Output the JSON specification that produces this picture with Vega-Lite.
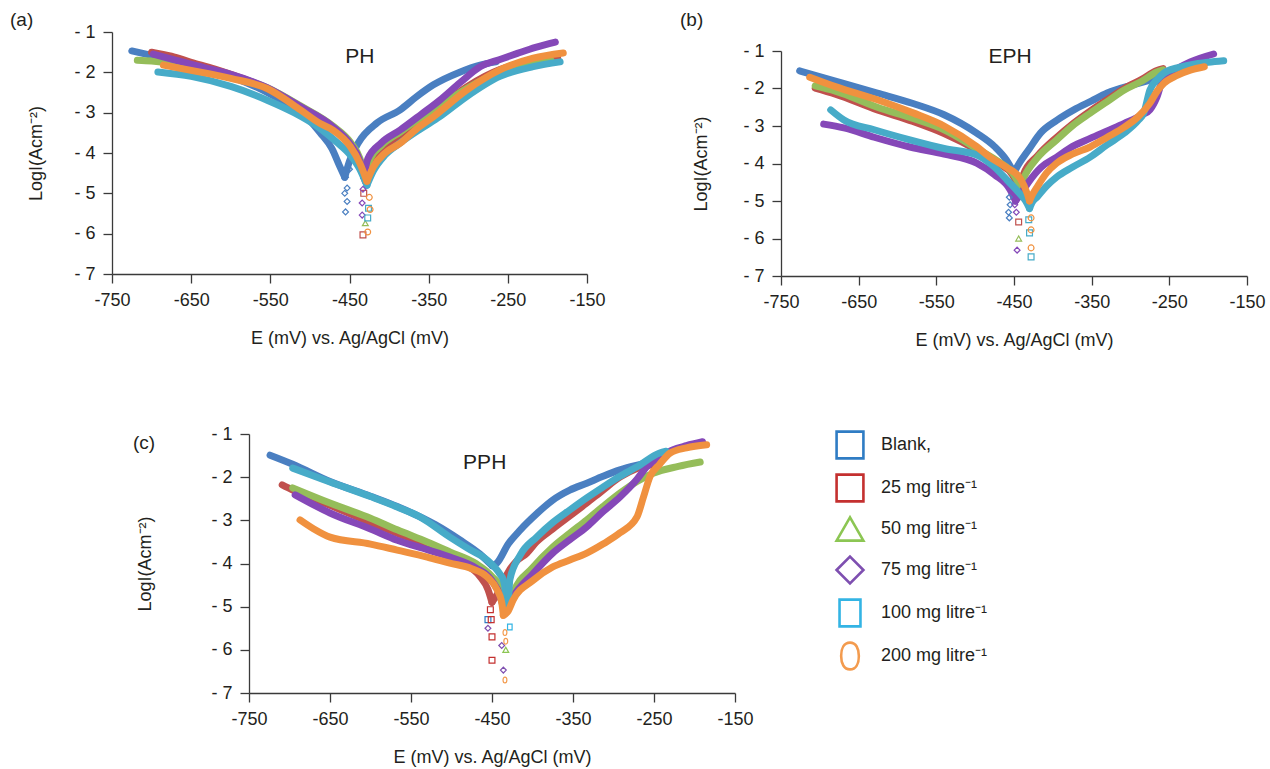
{
"$schema":"https://vega.github.io/schema/vega-lite/v6.json",
"padding":{"left":10,"top":11,"right":2,"bottom":2},
"config":{
 "font":"Liberation Sans",
 "view":{"stroke":null},
 "axis":{"grid":false,"domainColor":"#3a3a3a","tickColor":"#3a3a3a","domainWidth":1.3,"tickWidth":1.3,"tickSize":9,"labelFontSize":18,"labelColor":"#231f20","titleFontSize":18,"titleFontWeight":"normal","titleColor":"#231f20","labelPadding":8},
 "axisX":{"titlePadding":20,"labelFlush":false,"labelExpr":"'-' + abs(datum.value)"},
 "title":{"fontSize":19,"fontWeight":"normal","color":"#231f20","anchor":"start","frame":"group"},
 "text":{"font":"Liberation Sans"}
},
"datasets":{
"curves":[
{"p":"a","s":"Blank,","b":"c","E":-725,"L":-1.47},{"p":"a","s":"Blank,","b":"c","E":-700,"L":-1.58},{"p":"a","s":"Blank,","b":"c","E":-650,"L":-1.8},{"p":"a","s":"Blank,","b":"c","E":-600,"L":-2.1},{"p":"a","s":"Blank,","b":"c","E":-554,"L":-2.5},{"p":"a","s":"Blank,","b":"c","E":-520,"L":-2.9},{"p":"a","s":"Blank,","b":"c","E":-500,"L":-3.2},{"p":"a","s":"Blank,","b":"c","E":-487,"L":-3.5},{"p":"a","s":"Blank,","b":"c","E":-472,"L":-3.9},{"p":"a","s":"Blank,","b":"c","E":-463,"L":-4.3},{"p":"a","s":"Blank,","b":"c","E":-456,"L":-4.6},
{"p":"a","s":"Blank,","b":"a","E":-456,"L":-4.6},{"p":"a","s":"Blank,","b":"a","E":-450,"L":-4.2},{"p":"a","s":"Blank,","b":"a","E":-439,"L":-3.75},{"p":"a","s":"Blank,","b":"a","E":-415,"L":-3.25},{"p":"a","s":"Blank,","b":"a","E":-386,"L":-2.93},{"p":"a","s":"Blank,","b":"a","E":-365,"L":-2.6},{"p":"a","s":"Blank,","b":"a","E":-344,"L":-2.31},{"p":"a","s":"Blank,","b":"a","E":-310,"L":-1.99},{"p":"a","s":"Blank,","b":"a","E":-285,"L":-1.82},{"p":"a","s":"Blank,","b":"a","E":-265,"L":-1.74},
{"p":"a","s":"25 mg litre⁻¹","b":"c","E":-700,"L":-1.5},{"p":"a","s":"25 mg litre⁻¹","b":"c","E":-675,"L":-1.6},{"p":"a","s":"25 mg litre⁻¹","b":"c","E":-650,"L":-1.75},{"p":"a","s":"25 mg litre⁻¹","b":"c","E":-620,"L":-1.92},{"p":"a","s":"25 mg litre⁻¹","b":"c","E":-600,"L":-2.05},{"p":"a","s":"25 mg litre⁻¹","b":"c","E":-554,"L":-2.4},{"p":"a","s":"25 mg litre⁻¹","b":"c","E":-512,"L":-2.9},{"p":"a","s":"25 mg litre⁻¹","b":"c","E":-471,"L":-3.4},{"p":"a","s":"25 mg litre⁻¹","b":"c","E":-449,"L":-3.8},{"p":"a","s":"25 mg litre⁻¹","b":"c","E":-437,"L":-4.2},{"p":"a","s":"25 mg litre⁻¹","b":"c","E":-430,"L":-4.7},
{"p":"a","s":"25 mg litre⁻¹","b":"a","E":-430,"L":-4.7},{"p":"a","s":"25 mg litre⁻¹","b":"a","E":-424,"L":-4.2},{"p":"a","s":"25 mg litre⁻¹","b":"a","E":-410,"L":-3.9},{"p":"a","s":"25 mg litre⁻¹","b":"a","E":-386,"L":-3.58},{"p":"a","s":"25 mg litre⁻¹","b":"a","E":-344,"L":-2.98},{"p":"a","s":"25 mg litre⁻¹","b":"a","E":-302,"L":-2.36},{"p":"a","s":"25 mg litre⁻¹","b":"a","E":-260,"L":-1.93},{"p":"a","s":"25 mg litre⁻¹","b":"a","E":-218,"L":-1.74},{"p":"a","s":"25 mg litre⁻¹","b":"a","E":-187,"L":-1.65},
{"p":"a","s":"50 mg litre⁻¹","b":"c","E":-718,"L":-1.7},{"p":"a","s":"50 mg litre⁻¹","b":"c","E":-700,"L":-1.72},{"p":"a","s":"50 mg litre⁻¹","b":"c","E":-650,"L":-1.85},{"p":"a","s":"50 mg litre⁻¹","b":"c","E":-600,"L":-2.08},{"p":"a","s":"50 mg litre⁻¹","b":"c","E":-554,"L":-2.38},{"p":"a","s":"50 mg litre⁻¹","b":"c","E":-512,"L":-2.83},{"p":"a","s":"50 mg litre⁻¹","b":"c","E":-471,"L":-3.33},{"p":"a","s":"50 mg litre⁻¹","b":"c","E":-449,"L":-3.73},{"p":"a","s":"50 mg litre⁻¹","b":"c","E":-437,"L":-4.13},{"p":"a","s":"50 mg litre⁻¹","b":"c","E":-430,"L":-4.6},
{"p":"a","s":"50 mg litre⁻¹","b":"a","E":-430,"L":-4.6},{"p":"a","s":"50 mg litre⁻¹","b":"a","E":-424,"L":-4.15},{"p":"a","s":"50 mg litre⁻¹","b":"a","E":-410,"L":-3.82},{"p":"a","s":"50 mg litre⁻¹","b":"a","E":-386,"L":-3.48},{"p":"a","s":"50 mg litre⁻¹","b":"a","E":-360,"L":-3.13},{"p":"a","s":"50 mg litre⁻¹","b":"a","E":-336,"L":-2.83},{"p":"a","s":"50 mg litre⁻¹","b":"a","E":-302,"L":-2.4},{"p":"a","s":"50 mg litre⁻¹","b":"a","E":-260,"L":-2.0},{"p":"a","s":"50 mg litre⁻¹","b":"a","E":-218,"L":-1.8},{"p":"a","s":"50 mg litre⁻¹","b":"a","E":-195,"L":-1.72},
{"p":"a","s":"75 mg litre⁻¹","b":"c","E":-698,"L":-1.55},{"p":"a","s":"75 mg litre⁻¹","b":"c","E":-670,"L":-1.7},{"p":"a","s":"75 mg litre⁻¹","b":"c","E":-630,"L":-1.9},{"p":"a","s":"75 mg litre⁻¹","b":"c","E":-600,"L":-2.05},{"p":"a","s":"75 mg litre⁻¹","b":"c","E":-554,"L":-2.38},{"p":"a","s":"75 mg litre⁻¹","b":"c","E":-512,"L":-2.85},{"p":"a","s":"75 mg litre⁻¹","b":"c","E":-471,"L":-3.35},{"p":"a","s":"75 mg litre⁻¹","b":"c","E":-449,"L":-3.78},{"p":"a","s":"75 mg litre⁻¹","b":"c","E":-437,"L":-4.2},{"p":"a","s":"75 mg litre⁻¹","b":"c","E":-432,"L":-4.6},
{"p":"a","s":"75 mg litre⁻¹","b":"a","E":-432,"L":-4.6},{"p":"a","s":"75 mg litre⁻¹","b":"a","E":-427,"L":-4.15},{"p":"a","s":"75 mg litre⁻¹","b":"a","E":-410,"L":-3.75},{"p":"a","s":"75 mg litre⁻¹","b":"a","E":-386,"L":-3.43},{"p":"a","s":"75 mg litre⁻¹","b":"a","E":-360,"L":-3.05},{"p":"a","s":"75 mg litre⁻¹","b":"a","E":-336,"L":-2.69},{"p":"a","s":"75 mg litre⁻¹","b":"a","E":-310,"L":-2.25},{"p":"a","s":"75 mg litre⁻¹","b":"a","E":-285,"L":-1.86},{"p":"a","s":"75 mg litre⁻¹","b":"a","E":-260,"L":-1.68},{"p":"a","s":"75 mg litre⁻¹","b":"a","E":-238,"L":-1.53},{"p":"a","s":"75 mg litre⁻¹","b":"a","E":-215,"L":-1.38},{"p":"a","s":"75 mg litre⁻¹","b":"a","E":-190,"L":-1.25},
{"p":"a","s":"100 mg litre⁻¹","b":"c","E":-692,"L":-1.99},{"p":"a","s":"100 mg litre⁻¹","b":"c","E":-650,"L":-2.1},{"p":"a","s":"100 mg litre⁻¹","b":"c","E":-600,"L":-2.35},{"p":"a","s":"100 mg litre⁻¹","b":"c","E":-554,"L":-2.69},{"p":"a","s":"100 mg litre⁻¹","b":"c","E":-520,"L":-3.0},{"p":"a","s":"100 mg litre⁻¹","b":"c","E":-490,"L":-3.35},{"p":"a","s":"100 mg litre⁻¹","b":"c","E":-465,"L":-3.75},{"p":"a","s":"100 mg litre⁻¹","b":"c","E":-449,"L":-4.05},{"p":"a","s":"100 mg litre⁻¹","b":"c","E":-437,"L":-4.4},{"p":"a","s":"100 mg litre⁻¹","b":"c","E":-428,"L":-4.8},
{"p":"a","s":"100 mg litre⁻¹","b":"a","E":-428,"L":-4.8},{"p":"a","s":"100 mg litre⁻¹","b":"a","E":-420,"L":-4.45},{"p":"a","s":"100 mg litre⁻¹","b":"a","E":-405,"L":-4.05},{"p":"a","s":"100 mg litre⁻¹","b":"a","E":-386,"L":-3.75},{"p":"a","s":"100 mg litre⁻¹","b":"a","E":-360,"L":-3.4},{"p":"a","s":"100 mg litre⁻¹","b":"a","E":-336,"L":-3.1},{"p":"a","s":"100 mg litre⁻¹","b":"a","E":-302,"L":-2.6},{"p":"a","s":"100 mg litre⁻¹","b":"a","E":-260,"L":-2.1},{"p":"a","s":"100 mg litre⁻¹","b":"a","E":-218,"L":-1.86},{"p":"a","s":"100 mg litre⁻¹","b":"a","E":-184,"L":-1.74},
{"p":"a","s":"200 mg litre⁻¹","b":"c","E":-685,"L":-1.82},{"p":"a","s":"200 mg litre⁻¹","b":"c","E":-650,"L":-1.95},{"p":"a","s":"200 mg litre⁻¹","b":"c","E":-600,"L":-2.15},{"p":"a","s":"200 mg litre⁻¹","b":"c","E":-554,"L":-2.4},{"p":"a","s":"200 mg litre⁻¹","b":"c","E":-512,"L":-2.93},{"p":"a","s":"200 mg litre⁻¹","b":"c","E":-487,"L":-3.27},{"p":"a","s":"200 mg litre⁻¹","b":"c","E":-471,"L":-3.43},{"p":"a","s":"200 mg litre⁻¹","b":"c","E":-449,"L":-3.84},{"p":"a","s":"200 mg litre⁻¹","b":"c","E":-437,"L":-4.25},{"p":"a","s":"200 mg litre⁻¹","b":"c","E":-428,"L":-4.7},
{"p":"a","s":"200 mg litre⁻¹","b":"a","E":-428,"L":-4.7},{"p":"a","s":"200 mg litre⁻¹","b":"a","E":-420,"L":-4.35},{"p":"a","s":"200 mg litre⁻¹","b":"a","E":-405,"L":-4.0},{"p":"a","s":"200 mg litre⁻¹","b":"a","E":-386,"L":-3.76},{"p":"a","s":"200 mg litre⁻¹","b":"a","E":-365,"L":-3.4},{"p":"a","s":"200 mg litre⁻¹","b":"a","E":-344,"L":-3.1},{"p":"a","s":"200 mg litre⁻¹","b":"a","E":-302,"L":-2.44},{"p":"a","s":"200 mg litre⁻¹","b":"a","E":-260,"L":-1.94},{"p":"a","s":"200 mg litre⁻¹","b":"a","E":-218,"L":-1.65},{"p":"a","s":"200 mg litre⁻¹","b":"a","E":-180,"L":-1.52},

{"p":"b","s":"Blank,","b":"c","E":-726,"L":-1.53},{"p":"b","s":"Blank,","b":"c","E":-680,"L":-1.8},{"p":"b","s":"Blank,","b":"c","E":-626,"L":-2.12},{"p":"b","s":"Blank,","b":"c","E":-580,"L":-2.4},{"p":"b","s":"Blank,","b":"c","E":-540,"L":-2.7},{"p":"b","s":"Blank,","b":"c","E":-498,"L":-3.19},{"p":"b","s":"Blank,","b":"c","E":-475,"L":-3.55},{"p":"b","s":"Blank,","b":"c","E":-460,"L":-3.9},{"p":"b","s":"Blank,","b":"c","E":-450,"L":-4.25},
{"p":"b","s":"Blank,","b":"a","E":-450,"L":-4.25},{"p":"b","s":"Blank,","b":"a","E":-446,"L":-4.09},{"p":"b","s":"Blank,","b":"a","E":-430,"L":-3.6},{"p":"b","s":"Blank,","b":"a","E":-416,"L":-3.19},{"p":"b","s":"Blank,","b":"a","E":-395,"L":-2.85},{"p":"b","s":"Blank,","b":"a","E":-373,"L":-2.57},{"p":"b","s":"Blank,","b":"a","E":-350,"L":-2.33},{"p":"b","s":"Blank,","b":"a","E":-330,"L":-2.12},{"p":"b","s":"Blank,","b":"a","E":-296,"L":-1.9},{"p":"b","s":"Blank,","b":"a","E":-270,"L":-1.75},
{"p":"b","s":"25 mg litre⁻¹","b":"c","E":-706,"L":-1.99},{"p":"b","s":"25 mg litre⁻¹","b":"c","E":-680,"L":-2.15},{"p":"b","s":"25 mg litre⁻¹","b":"c","E":-626,"L":-2.57},{"p":"b","s":"25 mg litre⁻¹","b":"c","E":-580,"L":-2.88},{"p":"b","s":"25 mg litre⁻¹","b":"c","E":-540,"L":-3.2},{"p":"b","s":"25 mg litre⁻¹","b":"c","E":-498,"L":-3.64},{"p":"b","s":"25 mg litre⁻¹","b":"c","E":-470,"L":-4.0},{"p":"b","s":"25 mg litre⁻¹","b":"c","E":-452,"L":-4.3},{"p":"b","s":"25 mg litre⁻¹","b":"c","E":-442,"L":-4.7},
{"p":"b","s":"25 mg litre⁻¹","b":"a","E":-442,"L":-4.7},{"p":"b","s":"25 mg litre⁻¹","b":"a","E":-438,"L":-4.3},{"p":"b","s":"25 mg litre⁻¹","b":"a","E":-420,"L":-3.8},{"p":"b","s":"25 mg litre⁻¹","b":"a","E":-395,"L":-3.3},{"p":"b","s":"25 mg litre⁻¹","b":"a","E":-375,"L":-2.95},{"p":"b","s":"25 mg litre⁻¹","b":"a","E":-352,"L":-2.6},{"p":"b","s":"25 mg litre⁻¹","b":"a","E":-330,"L":-2.3},{"p":"b","s":"25 mg litre⁻¹","b":"a","E":-308,"L":-2.0},{"p":"b","s":"25 mg litre⁻¹","b":"a","E":-285,"L":-1.75},{"p":"b","s":"25 mg litre⁻¹","b":"a","E":-266,"L":-1.52},{"p":"b","s":"25 mg litre⁻¹","b":"a","E":-258,"L":-1.47},
{"p":"b","s":"50 mg litre⁻¹","b":"c","E":-706,"L":-1.93},{"p":"b","s":"50 mg litre⁻¹","b":"c","E":-680,"L":-2.07},{"p":"b","s":"50 mg litre⁻¹","b":"c","E":-626,"L":-2.5},{"p":"b","s":"50 mg litre⁻¹","b":"c","E":-580,"L":-2.8},{"p":"b","s":"50 mg litre⁻¹","b":"c","E":-540,"L":-3.1},{"p":"b","s":"50 mg litre⁻¹","b":"c","E":-498,"L":-3.6},{"p":"b","s":"50 mg litre⁻¹","b":"c","E":-470,"L":-3.95},{"p":"b","s":"50 mg litre⁻¹","b":"c","E":-452,"L":-4.25},{"p":"b","s":"50 mg litre⁻¹","b":"c","E":-442,"L":-4.6},
{"p":"b","s":"50 mg litre⁻¹","b":"a","E":-442,"L":-4.6},{"p":"b","s":"50 mg litre⁻¹","b":"a","E":-437,"L":-4.36},{"p":"b","s":"50 mg litre⁻¹","b":"a","E":-420,"L":-3.85},{"p":"b","s":"50 mg litre⁻¹","b":"a","E":-395,"L":-3.37},{"p":"b","s":"50 mg litre⁻¹","b":"a","E":-375,"L":-3.0},{"p":"b","s":"50 mg litre⁻¹","b":"a","E":-352,"L":-2.66},{"p":"b","s":"50 mg litre⁻¹","b":"a","E":-330,"L":-2.35},{"p":"b","s":"50 mg litre⁻¹","b":"a","E":-308,"L":-2.04},{"p":"b","s":"50 mg litre⁻¹","b":"a","E":-285,"L":-1.8},{"p":"b","s":"50 mg litre⁻¹","b":"a","E":-266,"L":-1.56},{"p":"b","s":"50 mg litre⁻¹","b":"a","E":-258,"L":-1.5},
{"p":"b","s":"75 mg litre⁻¹","b":"c","E":-695,"L":-2.95},{"p":"b","s":"75 mg litre⁻¹","b":"c","E":-669,"L":-3.05},{"p":"b","s":"75 mg litre⁻¹","b":"c","E":-630,"L":-3.3},{"p":"b","s":"75 mg litre⁻¹","b":"c","E":-584,"L":-3.56},{"p":"b","s":"75 mg litre⁻¹","b":"c","E":-540,"L":-3.75},{"p":"b","s":"75 mg litre⁻¹","b":"c","E":-498,"L":-3.99},{"p":"b","s":"75 mg litre⁻¹","b":"c","E":-475,"L":-4.3},{"p":"b","s":"75 mg litre⁻¹","b":"c","E":-455,"L":-4.7},{"p":"b","s":"75 mg litre⁻¹","b":"c","E":-448,"L":-5.0},
{"p":"b","s":"75 mg litre⁻¹","b":"a","E":-448,"L":-5.0},{"p":"b","s":"75 mg litre⁻¹","b":"a","E":-441,"L":-4.8},{"p":"b","s":"75 mg litre⁻¹","b":"a","E":-431,"L":-4.49},{"p":"b","s":"75 mg litre⁻¹","b":"a","E":-415,"L":-4.1},{"p":"b","s":"75 mg litre⁻¹","b":"a","E":-395,"L":-3.83},{"p":"b","s":"75 mg litre⁻¹","b":"a","E":-375,"L":-3.55},{"p":"b","s":"75 mg litre⁻¹","b":"a","E":-352,"L":-3.33},{"p":"b","s":"75 mg litre⁻¹","b":"a","E":-330,"L":-3.13},{"p":"b","s":"75 mg litre⁻¹","b":"a","E":-308,"L":-2.93},{"p":"b","s":"75 mg litre⁻¹","b":"a","E":-285,"L":-2.7},{"p":"b","s":"75 mg litre⁻¹","b":"a","E":-275,"L":-2.57},{"p":"b","s":"75 mg litre⁻¹","b":"a","E":-266,"L":-2.23},{"p":"b","s":"75 mg litre⁻¹","b":"a","E":-257,"L":-1.69},{"p":"b","s":"75 mg litre⁻¹","b":"a","E":-240,"L":-1.47},{"p":"b","s":"75 mg litre⁻¹","b":"a","E":-223,"L":-1.29},{"p":"b","s":"75 mg litre⁻¹","b":"a","E":-193,"L":-1.08},
{"p":"b","s":"100 mg litre⁻¹","b":"c","E":-686,"L":-2.57},{"p":"b","s":"100 mg litre⁻¹","b":"c","E":-669,"L":-2.84},{"p":"b","s":"100 mg litre⁻¹","b":"c","E":-630,"L":-3.1},{"p":"b","s":"100 mg litre⁻¹","b":"c","E":-584,"L":-3.37},{"p":"b","s":"100 mg litre⁻¹","b":"c","E":-540,"L":-3.6},{"p":"b","s":"100 mg litre⁻¹","b":"c","E":-498,"L":-3.77},{"p":"b","s":"100 mg litre⁻¹","b":"c","E":-475,"L":-4.1},{"p":"b","s":"100 mg litre⁻¹","b":"c","E":-459,"L":-4.44},{"p":"b","s":"100 mg litre⁻¹","b":"c","E":-445,"L":-4.75},{"p":"b","s":"100 mg litre⁻¹","b":"c","E":-435,"L":-5.0},{"p":"b","s":"100 mg litre⁻¹","b":"c","E":-430,"L":-5.2},
{"p":"b","s":"100 mg litre⁻¹","b":"a","E":-430,"L":-5.2},{"p":"b","s":"100 mg litre⁻¹","b":"a","E":-427,"L":-5.05},{"p":"b","s":"100 mg litre⁻¹","b":"a","E":-420,"L":-4.89},{"p":"b","s":"100 mg litre⁻¹","b":"a","E":-408,"L":-4.6},{"p":"b","s":"100 mg litre⁻¹","b":"a","E":-395,"L":-4.36},{"p":"b","s":"100 mg litre⁻¹","b":"a","E":-375,"L":-4.1},{"p":"b","s":"100 mg litre⁻¹","b":"a","E":-352,"L":-3.83},{"p":"b","s":"100 mg litre⁻¹","b":"a","E":-330,"L":-3.5},{"p":"b","s":"100 mg litre⁻¹","b":"a","E":-308,"L":-3.19},{"p":"b","s":"100 mg litre⁻¹","b":"a","E":-290,"L":-2.85},{"p":"b","s":"100 mg litre⁻¹","b":"a","E":-283,"L":-2.66},{"p":"b","s":"100 mg litre⁻¹","b":"a","E":-275,"L":-2.04},{"p":"b","s":"100 mg litre⁻¹","b":"a","E":-265,"L":-1.75},{"p":"b","s":"100 mg litre⁻¹","b":"a","E":-257,"L":-1.59},{"p":"b","s":"100 mg litre⁻¹","b":"a","E":-240,"L":-1.45},{"p":"b","s":"100 mg litre⁻¹","b":"a","E":-223,"L":-1.37},{"p":"b","s":"100 mg litre⁻¹","b":"a","E":-200,"L":-1.3},{"p":"b","s":"100 mg litre⁻¹","b":"a","E":-180,"L":-1.26},
{"p":"b","s":"200 mg litre⁻¹","b":"c","E":-713,"L":-1.7},{"p":"b","s":"200 mg litre⁻¹","b":"c","E":-680,"L":-1.95},{"p":"b","s":"200 mg litre⁻¹","b":"c","E":-626,"L":-2.3},{"p":"b","s":"200 mg litre⁻¹","b":"c","E":-580,"L":-2.65},{"p":"b","s":"200 mg litre⁻¹","b":"c","E":-540,"L":-3.0},{"p":"b","s":"200 mg litre⁻¹","b":"c","E":-498,"L":-3.55},{"p":"b","s":"200 mg litre⁻¹","b":"c","E":-481,"L":-3.83},{"p":"b","s":"200 mg litre⁻¹","b":"c","E":-460,"L":-4.1},{"p":"b","s":"200 mg litre⁻¹","b":"c","E":-442,"L":-4.4},{"p":"b","s":"200 mg litre⁻¹","b":"c","E":-433,"L":-4.8},{"p":"b","s":"200 mg litre⁻¹","b":"c","E":-430,"L":-5.0},
{"p":"b","s":"200 mg litre⁻¹","b":"a","E":-430,"L":-5.0},{"p":"b","s":"200 mg litre⁻¹","b":"a","E":-428,"L":-4.9},{"p":"b","s":"200 mg litre⁻¹","b":"a","E":-420,"L":-4.62},{"p":"b","s":"200 mg litre⁻¹","b":"a","E":-408,"L":-4.25},{"p":"b","s":"200 mg litre⁻¹","b":"a","E":-395,"L":-3.99},{"p":"b","s":"200 mg litre⁻¹","b":"a","E":-375,"L":-3.75},{"p":"b","s":"200 mg litre⁻¹","b":"a","E":-352,"L":-3.56},{"p":"b","s":"200 mg litre⁻¹","b":"a","E":-330,"L":-3.3},{"p":"b","s":"200 mg litre⁻¹","b":"a","E":-308,"L":-3.03},{"p":"b","s":"200 mg litre⁻¹","b":"a","E":-290,"L":-2.75},{"p":"b","s":"200 mg litre⁻¹","b":"a","E":-275,"L":-2.39},{"p":"b","s":"200 mg litre⁻¹","b":"a","E":-265,"L":-2.05},{"p":"b","s":"200 mg litre⁻¹","b":"a","E":-257,"L":-1.86},{"p":"b","s":"200 mg litre⁻¹","b":"a","E":-240,"L":-1.65},{"p":"b","s":"200 mg litre⁻¹","b":"a","E":-223,"L":-1.51},{"p":"b","s":"200 mg litre⁻¹","b":"a","E":-205,"L":-1.42},

{"p":"c","s":"Blank,","b":"c","E":-724,"L":-1.49},{"p":"c","s":"Blank,","b":"c","E":-696,"L":-1.7},{"p":"c","s":"Blank,","b":"c","E":-650,"L":-2.1},{"p":"c","s":"Blank,","b":"c","E":-600,"L":-2.44},{"p":"c","s":"Blank,","b":"c","E":-567,"L":-2.68},{"p":"c","s":"Blank,","b":"c","E":-520,"L":-3.1},{"p":"c","s":"Blank,","b":"c","E":-490,"L":-3.45},{"p":"c","s":"Blank,","b":"c","E":-465,"L":-3.78},{"p":"c","s":"Blank,","b":"c","E":-450,"L":-4.05},
{"p":"c","s":"Blank,","b":"a","E":-450,"L":-4.05},{"p":"c","s":"Blank,","b":"a","E":-444,"L":-3.99},{"p":"c","s":"Blank,","b":"a","E":-430,"L":-3.55},{"p":"c","s":"Blank,","b":"a","E":-415,"L":-3.22},{"p":"c","s":"Blank,","b":"a","E":-395,"L":-2.85},{"p":"c","s":"Blank,","b":"a","E":-375,"L":-2.53},{"p":"c","s":"Blank,","b":"a","E":-354,"L":-2.3},{"p":"c","s":"Blank,","b":"a","E":-333,"L":-2.14},{"p":"c","s":"Blank,","b":"a","E":-313,"L":-1.98},{"p":"c","s":"Blank,","b":"a","E":-292,"L":-1.83},{"p":"c","s":"Blank,","b":"a","E":-259,"L":-1.67},{"p":"c","s":"Blank,","b":"a","E":-245,"L":-1.6},
{"p":"c","s":"25 mg litre⁻¹","b":"c","E":-709,"L":-2.18},{"p":"c","s":"25 mg litre⁻¹","b":"c","E":-696,"L":-2.3},{"p":"c","s":"25 mg litre⁻¹","b":"c","E":-650,"L":-2.65},{"p":"c","s":"25 mg litre⁻¹","b":"c","E":-600,"L":-3.05},{"p":"c","s":"25 mg litre⁻¹","b":"c","E":-567,"L":-3.3},{"p":"c","s":"25 mg litre⁻¹","b":"c","E":-520,"L":-3.65},{"p":"c","s":"25 mg litre⁻¹","b":"c","E":-490,"L":-3.95},{"p":"c","s":"25 mg litre⁻¹","b":"c","E":-465,"L":-4.3},{"p":"c","s":"25 mg litre⁻¹","b":"c","E":-455,"L":-4.6},{"p":"c","s":"25 mg litre⁻¹","b":"c","E":-450,"L":-4.9},
{"p":"c","s":"25 mg litre⁻¹","b":"a","E":-450,"L":-4.9},{"p":"c","s":"25 mg litre⁻¹","b":"a","E":-440,"L":-4.6},{"p":"c","s":"25 mg litre⁻¹","b":"a","E":-430,"L":-4.2},{"p":"c","s":"25 mg litre⁻¹","b":"a","E":-420,"L":-3.95},{"p":"c","s":"25 mg litre⁻¹","b":"a","E":-407,"L":-3.76},{"p":"c","s":"25 mg litre⁻¹","b":"a","E":-395,"L":-3.5},{"p":"c","s":"25 mg litre⁻¹","b":"a","E":-375,"L":-3.2},{"p":"c","s":"25 mg litre⁻¹","b":"a","E":-354,"L":-2.9},{"p":"c","s":"25 mg litre⁻¹","b":"a","E":-333,"L":-2.6},{"p":"c","s":"25 mg litre⁻¹","b":"a","E":-313,"L":-2.3},{"p":"c","s":"25 mg litre⁻¹","b":"a","E":-292,"L":-2.0},{"p":"c","s":"25 mg litre⁻¹","b":"a","E":-271,"L":-1.8},{"p":"c","s":"25 mg litre⁻¹","b":"a","E":-250,"L":-1.7},
{"p":"c","s":"50 mg litre⁻¹","b":"c","E":-696,"L":-2.25},{"p":"c","s":"50 mg litre⁻¹","b":"c","E":-650,"L":-2.6},{"p":"c","s":"50 mg litre⁻¹","b":"c","E":-600,"L":-2.95},{"p":"c","s":"50 mg litre⁻¹","b":"c","E":-567,"L":-3.22},{"p":"c","s":"50 mg litre⁻¹","b":"c","E":-530,"L":-3.5},{"p":"c","s":"50 mg litre⁻¹","b":"c","E":-502,"L":-3.73},{"p":"c","s":"50 mg litre⁻¹","b":"c","E":-470,"L":-4.0},{"p":"c","s":"50 mg litre⁻¹","b":"c","E":-450,"L":-4.3},{"p":"c","s":"50 mg litre⁻¹","b":"c","E":-438,"L":-4.6},{"p":"c","s":"50 mg litre⁻¹","b":"c","E":-432,"L":-5.0},
{"p":"c","s":"50 mg litre⁻¹","b":"a","E":-432,"L":-5.0},{"p":"c","s":"50 mg litre⁻¹","b":"a","E":-428,"L":-4.9},{"p":"c","s":"50 mg litre⁻¹","b":"a","E":-424,"L":-4.69},{"p":"c","s":"50 mg litre⁻¹","b":"a","E":-400,"L":-4.1},{"p":"c","s":"50 mg litre⁻¹","b":"a","E":-375,"L":-3.62},{"p":"c","s":"50 mg litre⁻¹","b":"a","E":-354,"L":-3.3},{"p":"c","s":"50 mg litre⁻¹","b":"a","E":-333,"L":-2.99},{"p":"c","s":"50 mg litre⁻¹","b":"a","E":-313,"L":-2.68},{"p":"c","s":"50 mg litre⁻¹","b":"a","E":-292,"L":-2.37},{"p":"c","s":"50 mg litre⁻¹","b":"a","E":-271,"L":-2.1},{"p":"c","s":"50 mg litre⁻¹","b":"a","E":-251,"L":-1.91},{"p":"c","s":"50 mg litre⁻¹","b":"a","E":-220,"L":-1.75},{"p":"c","s":"50 mg litre⁻¹","b":"a","E":-193,"L":-1.65},
{"p":"c","s":"75 mg litre⁻¹","b":"c","E":-693,"L":-2.41},{"p":"c","s":"75 mg litre⁻¹","b":"c","E":-650,"L":-2.83},{"p":"c","s":"75 mg litre⁻¹","b":"c","E":-600,"L":-3.2},{"p":"c","s":"75 mg litre⁻¹","b":"c","E":-567,"L":-3.46},{"p":"c","s":"75 mg litre⁻¹","b":"c","E":-530,"L":-3.68},{"p":"c","s":"75 mg litre⁻¹","b":"c","E":-502,"L":-3.85},{"p":"c","s":"75 mg litre⁻¹","b":"c","E":-470,"L":-4.1},{"p":"c","s":"75 mg litre⁻¹","b":"c","E":-450,"L":-4.4},{"p":"c","s":"75 mg litre⁻¹","b":"c","E":-440,"L":-4.75},{"p":"c","s":"75 mg litre⁻¹","b":"c","E":-435,"L":-5.1},
{"p":"c","s":"75 mg litre⁻¹","b":"a","E":-435,"L":-5.1},{"p":"c","s":"75 mg litre⁻¹","b":"a","E":-430,"L":-5.0},{"p":"c","s":"75 mg litre⁻¹","b":"a","E":-424,"L":-4.78},{"p":"c","s":"75 mg litre⁻¹","b":"a","E":-400,"L":-4.25},{"p":"c","s":"75 mg litre⁻¹","b":"a","E":-375,"L":-3.76},{"p":"c","s":"75 mg litre⁻¹","b":"a","E":-354,"L":-3.45},{"p":"c","s":"75 mg litre⁻¹","b":"a","E":-333,"L":-3.15},{"p":"c","s":"75 mg litre⁻¹","b":"a","E":-313,"L":-2.8},{"p":"c","s":"75 mg litre⁻¹","b":"a","E":-292,"L":-2.46},{"p":"c","s":"75 mg litre⁻¹","b":"a","E":-271,"L":-2.05},{"p":"c","s":"75 mg litre⁻¹","b":"a","E":-259,"L":-1.76},{"p":"c","s":"75 mg litre⁻¹","b":"a","E":-243,"L":-1.55},{"p":"c","s":"75 mg litre⁻¹","b":"a","E":-227,"L":-1.37},{"p":"c","s":"75 mg litre⁻¹","b":"a","E":-210,"L":-1.27},{"p":"c","s":"75 mg litre⁻¹","b":"a","E":-190,"L":-1.18},
{"p":"c","s":"100 mg litre⁻¹","b":"c","E":-696,"L":-1.79},{"p":"c","s":"100 mg litre⁻¹","b":"c","E":-650,"L":-2.11},{"p":"c","s":"100 mg litre⁻¹","b":"c","E":-600,"L":-2.45},{"p":"c","s":"100 mg litre⁻¹","b":"c","E":-567,"L":-2.69},{"p":"c","s":"100 mg litre⁻¹","b":"c","E":-539,"L":-2.92},{"p":"c","s":"100 mg litre⁻¹","b":"c","E":-502,"L":-3.39},{"p":"c","s":"100 mg litre⁻¹","b":"c","E":-480,"L":-3.65},{"p":"c","s":"100 mg litre⁻¹","b":"c","E":-456,"L":-3.92},{"p":"c","s":"100 mg litre⁻¹","b":"c","E":-440,"L":-4.25},{"p":"c","s":"100 mg litre⁻¹","b":"c","E":-436,"L":-4.38},{"p":"c","s":"100 mg litre⁻¹","b":"c","E":-433,"L":-4.7},{"p":"c","s":"100 mg litre⁻¹","b":"c","E":-432,"L":-5.0},
{"p":"c","s":"100 mg litre⁻¹","b":"a","E":-432,"L":-5.0},{"p":"c","s":"100 mg litre⁻¹","b":"a","E":-430,"L":-4.9},{"p":"c","s":"100 mg litre⁻¹","b":"a","E":-428,"L":-4.38},{"p":"c","s":"100 mg litre⁻¹","b":"a","E":-415,"L":-3.8},{"p":"c","s":"100 mg litre⁻¹","b":"a","E":-395,"L":-3.39},{"p":"c","s":"100 mg litre⁻¹","b":"a","E":-375,"L":-3.05},{"p":"c","s":"100 mg litre⁻¹","b":"a","E":-354,"L":-2.76},{"p":"c","s":"100 mg litre⁻¹","b":"a","E":-333,"L":-2.48},{"p":"c","s":"100 mg litre⁻¹","b":"a","E":-313,"L":-2.23},{"p":"c","s":"100 mg litre⁻¹","b":"a","E":-292,"L":-1.98},{"p":"c","s":"100 mg litre⁻¹","b":"a","E":-271,"L":-1.76},{"p":"c","s":"100 mg litre⁻¹","b":"a","E":-243,"L":-1.44},{"p":"c","s":"100 mg litre⁻¹","b":"a","E":-235,"L":-1.4},
{"p":"c","s":"200 mg litre⁻¹","b":"c","E":-687,"L":-2.99},{"p":"c","s":"200 mg litre⁻¹","b":"c","E":-670,"L":-3.2},{"p":"c","s":"200 mg litre⁻¹","b":"c","E":-650,"L":-3.39},{"p":"c","s":"200 mg litre⁻¹","b":"c","E":-600,"L":-3.55},{"p":"c","s":"200 mg litre⁻¹","b":"c","E":-567,"L":-3.69},{"p":"c","s":"200 mg litre⁻¹","b":"c","E":-530,"L":-3.85},{"p":"c","s":"200 mg litre⁻¹","b":"c","E":-502,"L":-3.99},{"p":"c","s":"200 mg litre⁻¹","b":"c","E":-475,"L":-4.12},{"p":"c","s":"200 mg litre⁻¹","b":"c","E":-456,"L":-4.31},{"p":"c","s":"200 mg litre⁻¹","b":"c","E":-444,"L":-4.6},{"p":"c","s":"200 mg litre⁻¹","b":"c","E":-438,"L":-4.9},{"p":"c","s":"200 mg litre⁻¹","b":"c","E":-436,"L":-5.2},
{"p":"c","s":"200 mg litre⁻¹","b":"a","E":-436,"L":-5.2},{"p":"c","s":"200 mg litre⁻¹","b":"a","E":-430,"L":-5.1},{"p":"c","s":"200 mg litre⁻¹","b":"a","E":-424,"L":-4.85},{"p":"c","s":"200 mg litre⁻¹","b":"a","E":-400,"L":-4.4},{"p":"c","s":"200 mg litre⁻¹","b":"a","E":-375,"L":-4.08},{"p":"c","s":"200 mg litre⁻¹","b":"a","E":-354,"L":-3.92},{"p":"c","s":"200 mg litre⁻¹","b":"a","E":-333,"L":-3.76},{"p":"c","s":"200 mg litre⁻¹","b":"a","E":-313,"L":-3.55},{"p":"c","s":"200 mg litre⁻¹","b":"a","E":-292,"L":-3.29},{"p":"c","s":"200 mg litre⁻¹","b":"a","E":-271,"L":-2.92},{"p":"c","s":"200 mg litre⁻¹","b":"a","E":-263,"L":-2.46},{"p":"c","s":"200 mg litre⁻¹","b":"a","E":-255,"L":-1.99},{"p":"c","s":"200 mg litre⁻¹","b":"a","E":-243,"L":-1.7},{"p":"c","s":"200 mg litre⁻¹","b":"a","E":-230,"L":-1.44},{"p":"c","s":"200 mg litre⁻¹","b":"a","E":-210,"L":-1.32},{"p":"c","s":"200 mg litre⁻¹","b":"a","E":-185,"L":-1.25}
],
"markers":[
{"p":"a","s":"Blank,","E":-450,"L":-4.4},{"p":"a","s":"Blank,","E":-455,"L":-4.6},{"p":"a","s":"Blank,","E":-453,"L":-4.87},{"p":"a","s":"Blank,","E":-456,"L":-5.0},{"p":"a","s":"Blank,","E":-453,"L":-5.2},{"p":"a","s":"Blank,","E":-455,"L":-5.46},
{"p":"a","s":"25 mg litre⁻¹","E":-432,"L":-5.0},{"p":"a","s":"25 mg litre⁻¹","E":-433,"L":-6.03},
{"p":"a","s":"50 mg litre⁻¹","E":-430,"L":-5.74},
{"p":"a","s":"75 mg litre⁻¹","E":-433,"L":-4.9},{"p":"a","s":"75 mg litre⁻¹","E":-434,"L":-5.24},{"p":"a","s":"75 mg litre⁻¹","E":-434,"L":-5.54},
{"p":"a","s":"100 mg litre⁻¹","E":-426,"L":-5.37},{"p":"a","s":"100 mg litre⁻¹","E":-427,"L":-5.61},
{"p":"a","s":"200 mg litre⁻¹","E":-425,"L":-5.1},{"p":"a","s":"200 mg litre⁻¹","E":-424,"L":-5.4},{"p":"a","s":"200 mg litre⁻¹","E":-427,"L":-5.96},
{"p":"b","s":"Blank,","E":-456,"L":-4.9},{"p":"b","s":"Blank,","E":-455,"L":-5.1},{"p":"b","s":"Blank,","E":-457,"L":-5.3},{"p":"b","s":"Blank,","E":-456,"L":-5.45},
{"p":"b","s":"25 mg litre⁻¹","E":-444,"L":-5.56},
{"p":"b","s":"50 mg litre⁻¹","E":-444,"L":-6.0},
{"p":"b","s":"75 mg litre⁻¹","E":-449,"L":-5.1},{"p":"b","s":"75 mg litre⁻¹","E":-447,"L":-5.3},{"p":"b","s":"75 mg litre⁻¹","E":-446,"L":-6.31},
{"p":"b","s":"100 mg litre⁻¹","E":-431,"L":-5.5},{"p":"b","s":"100 mg litre⁻¹","E":-430,"L":-5.85},{"p":"b","s":"100 mg litre⁻¹","E":-428,"L":-6.49},
{"p":"b","s":"200 mg litre⁻¹","E":-428,"L":-5.45},{"p":"b","s":"200 mg litre⁻¹","E":-428,"L":-5.77},{"p":"b","s":"200 mg litre⁻¹","E":-428,"L":-6.25},
{"p":"c","s":"Blank,","E":-455,"L":-5.3},
{"p":"c","s":"25 mg litre⁻¹","E":-452,"L":-5.07},{"p":"c","s":"25 mg litre⁻¹","E":-451,"L":-5.3},{"p":"c","s":"25 mg litre⁻¹","E":-450,"L":-5.7},{"p":"c","s":"25 mg litre⁻¹","E":-450,"L":-6.24},
{"p":"c","s":"50 mg litre⁻¹","E":-433,"L":-6.0},
{"p":"c","s":"75 mg litre⁻¹","E":-455,"L":-5.5},{"p":"c","s":"75 mg litre⁻¹","E":-438,"L":-5.9},{"p":"c","s":"75 mg litre⁻¹","E":-436,"L":-6.47},
{"p":"c","s":"100 mg litre⁻¹","E":-428,"L":-5.47},
{"p":"c","s":"200 mg litre⁻¹","E":-434,"L":-5.6},{"p":"c","s":"200 mg litre⁻¹","E":-433,"L":-5.8},{"p":"c","s":"200 mg litre⁻¹","E":-434,"L":-6.7}
],
"labels":[
{"p":"a","t":"PH","E":-437,"L":-1.62},
{"p":"b","t":"EPH","E":-455,"L":-1.16},
{"p":"c","t":"PPH","E":-459,"L":-1.67}
]
},
"bounds":"flush",
"spacing":402,
"resolve":{"scale":{"color":"independent","shape":"independent"}},
"vconcat":[
{"bounds":"flush","spacing":194,"resolve":{"scale":{"color":"independent","shape":"independent"}},
 "hconcat":[
 {"width":475,"height":242,
  "title":{"text":"(a)","dx":-102,"offset":-7},
  "encoding":{
   "x":{"field":"E","type":"quantitative","scale":{"domain":[-750,-150],"nice":false,"zero":false},"axis":{"values":[-750,-650,-550,-450,-350,-250,-150],"title":"E (mV) vs. Ag/AgCl (mV)"}},
   "y":{"field":"L","type":"quantitative","scale":{"domain":[-7,-1],"nice":false,"zero":false},"axis":{"values":[-1,-2,-3,-4,-5,-6,-7],"labelExpr":"'- ' + abs(datum.value)","title":"LogI(Acm⁻²)","titlePadding":28}}
  },
  "layer":[
   {"data":{"name":"curves"},"transform":[{"filter":"datum.p==='a'"}],
    "mark":{"type":"line","strokeWidth":7,"strokeCap":"round","strokeJoin":"round","interpolate":"monotone"},
    "encoding":{"color":{"field":"s","type":"nominal","scale":{"domain":["Blank,","25 mg litre⁻¹","50 mg litre⁻¹","75 mg litre⁻¹","100 mg litre⁻¹","200 mg litre⁻¹"],"range":["#4a7fc1","#c0504d","#95bd5a","#8548b8","#47abc8","#f0913f"]},"legend":null},"detail":{"field":"b"}}},
   {"data":{"name":"markers"},"transform":[{"filter":"datum.p==='a'"}],
    "mark":{"type":"point","filled":false,"size":34,"strokeWidth":1.2,"opacity":1},
    "encoding":{"color":{"field":"s","type":"nominal","scale":{"domain":["Blank,","25 mg litre⁻¹","50 mg litre⁻¹","75 mg litre⁻¹","100 mg litre⁻¹","200 mg litre⁻¹"],"range":["#4a7fc1","#c0504d","#95bd5a","#8548b8","#47abc8","#f0913f"]},"legend":null},
     "shape":{"field":"s","type":"nominal","scale":{"domain":["Blank,","25 mg litre⁻¹","50 mg litre⁻¹","75 mg litre⁻¹","100 mg litre⁻¹","200 mg litre⁻¹"],"range":["diamond","square","triangle-up","diamond","square","circle"]},"legend":null}}},
   {"data":{"name":"labels"},"transform":[{"filter":"datum.p==='a'"}],
    "mark":{"type":"text","fontSize":21,"color":"#231f20"},
    "encoding":{"text":{"field":"t"}}}
  ]
 },
 {"bounds":"flush","spacing":18,"resolve":{"scale":{"color":"independent","shape":"independent"}},
  "vconcat":[
  {"width":1,"height":1,"data":{"values":[]},"mark":"point"},
  {"width":466,"height":225,
   "title":{"text":"(b)","dx":-101,"offset":12},
   "encoding":{
    "x":{"field":"E","type":"quantitative","scale":{"domain":[-750,-150],"nice":false,"zero":false},"axis":{"values":[-750,-650,-550,-450,-350,-250,-150],"title":"E (mV) vs. Ag/AgCl (mV)"}},
    "y":{"field":"L","type":"quantitative","scale":{"domain":[-7,-1],"nice":false,"zero":false},"axis":{"values":[-1,-2,-3,-4,-5,-6,-7],"labelExpr":"'- ' + abs(datum.value)","title":"LogI(Acm⁻²)","titlePadding":32}}
   },
   "layer":[
    {"data":{"name":"curves"},"transform":[{"filter":"datum.p==='b'"}],
     "mark":{"type":"line","strokeWidth":7,"strokeCap":"round","strokeJoin":"round","interpolate":"monotone"},
     "encoding":{"color":{"field":"s","type":"nominal","scale":{"domain":["Blank,","25 mg litre⁻¹","50 mg litre⁻¹","75 mg litre⁻¹","100 mg litre⁻¹","200 mg litre⁻¹"],"range":["#4a7fc1","#c0504d","#95bd5a","#8548b8","#47abc8","#f0913f"]},"legend":null},"detail":{"field":"b"}}},
    {"data":{"name":"markers"},"transform":[{"filter":"datum.p==='b'"}],
     "mark":{"type":"point","filled":false,"size":34,"strokeWidth":1.2,"opacity":1},
     "encoding":{"color":{"field":"s","type":"nominal","scale":{"domain":["Blank,","25 mg litre⁻¹","50 mg litre⁻¹","75 mg litre⁻¹","100 mg litre⁻¹","200 mg litre⁻¹"],"range":["#4a7fc1","#c0504d","#95bd5a","#8548b8","#47abc8","#f0913f"]},"legend":null},
      "shape":{"field":"s","type":"nominal","scale":{"domain":["Blank,","25 mg litre⁻¹","50 mg litre⁻¹","75 mg litre⁻¹","100 mg litre⁻¹","200 mg litre⁻¹"],"range":["diamond","square","triangle-up","diamond","square","circle"]},"legend":null}}},
    {"data":{"name":"labels"},"transform":[{"filter":"datum.p==='b'"}],
     "mark":{"type":"text","fontSize":21,"color":"#231f20"},
     "encoding":{"text":{"field":"t"}}}
   ]
  }
  ]
 }
 ]
},
{"bounds":"flush","spacing":136,"resolve":{"scale":{"color":"independent","shape":"independent"}},
 "hconcat":[
 {"width":1,"height":1,"data":{"values":[]},"mark":"point"},
 {"width":486,"height":259,
  "title":{"text":"(c)","dx":-116,"offset":-28},
  "resolve":{"scale":{"color":"independent","shape":"independent"}},
  "encoding":{
   "x":{"field":"E","type":"quantitative","scale":{"domain":[-750,-150],"nice":false,"zero":false},"axis":{"values":[-750,-650,-550,-450,-350,-250,-150],"title":"E (mV) vs. Ag/AgCl (mV)"}},
   "y":{"field":"L","type":"quantitative","scale":{"domain":[-7,-1],"nice":false,"zero":false},"axis":{"values":[-1,-2,-3,-4,-5,-6,-7],"labelExpr":"'- ' + abs(datum.value)","title":"LogI(Acm⁻²)","titlePadding":56}}
  },
  "layer":[
   {"data":{"name":"curves"},"transform":[{"filter":"datum.p==='c'"}],
    "mark":{"type":"line","strokeWidth":7,"strokeCap":"round","strokeJoin":"round","interpolate":"monotone"},
    "encoding":{"color":{"field":"s","type":"nominal","scale":{"domain":["Blank,","25 mg litre⁻¹","50 mg litre⁻¹","75 mg litre⁻¹","100 mg litre⁻¹","200 mg litre⁻¹"],"range":["#4a7fc1","#c0504d","#95bd5a","#8548b8","#47abc8","#f0913f"]},"legend":null},"detail":{"field":"b"}}},
   {"data":{"name":"markers"},"transform":[{"filter":"datum.p==='c'"}],
    "mark":{"type":"point","filled":false,"size":34,"strokeWidth":1.2,"opacity":1},
    "encoding":{
     "color":{"field":"s","type":"nominal","scale":{"domain":["Blank,","25 mg litre⁻¹","50 mg litre⁻¹","75 mg litre⁻¹","100 mg litre⁻¹","200 mg litre⁻¹"],"range":["#2f7cc4","#c4302f","#8cc653","#7e4fb0","#33b4e4","#f39b4e"]},
      "legend":{"orient":"none","legendX":586,"legendY":-4,"title":null,"symbolSize":720,"symbolStrokeWidth":2.6,"symbolOpacity":1,"labelFontSize":18,"labelColor":"#231f20","labelOffset":16,"rowPadding":5,"padding":0,"labelFont":"Liberation Sans"}},
     "shape":{"field":"s","type":"nominal","scale":{"domain":["Blank,","25 mg litre⁻¹","50 mg litre⁻¹","75 mg litre⁻¹","100 mg litre⁻¹","200 mg litre⁻¹"],"range":["square","square","triangle-up","diamond","M-0.78,-1L0.78,-1L0.78,1L-0.78,1Z","M0,-1C0.45,-1,0.66,-0.55,0.66,0C0.66,0.55,0.45,1,0,1C-0.45,1,-0.66,0.55,-0.66,0C-0.66,-0.55,-0.45,-1,0,-1Z"]},
      "legend":{"orient":"none","legendX":586,"legendY":-4,"title":null,"symbolSize":720,"symbolStrokeWidth":2.6,"symbolOpacity":1,"labelFontSize":18,"labelColor":"#231f20","labelOffset":16,"rowPadding":5,"padding":0,"labelFont":"Liberation Sans"}}}},
   {"data":{"name":"labels"},"transform":[{"filter":"datum.p==='c'"}],
    "mark":{"type":"text","fontSize":21,"color":"#231f20"},
    "encoding":{"text":{"field":"t"}}}
  ]
 }
 ]
}
]
}
